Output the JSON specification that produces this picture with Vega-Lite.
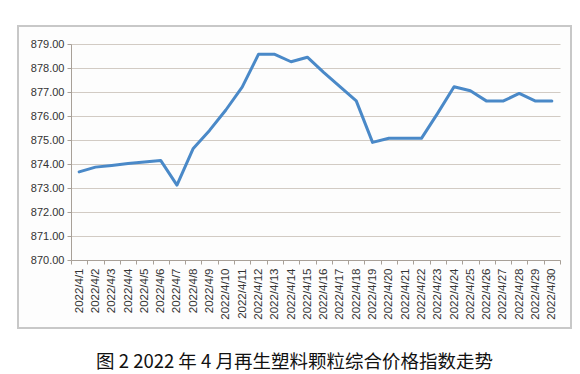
{
  "$schema": "https://vega.github.io/schema/vega-lite/v6.json",
  "autosize": "none",
  "width": 553,
  "height": 302,
  "padding": {"left": 18, "top": 26, "right": 9, "bottom": 46},
  "background": "white",
  "config": {
    "view": {"stroke": "#c8c8c8", "strokeWidth": 2, "fill": "#fdfdfd"},
    "font": "Liberation Sans"
  },
  "title": {
    "text": "图 2  2022 年 4 月再生塑料颗粒综合价格指数走势",
    "orient": "bottom",
    "anchor": "middle",
    "font": "Noto Sans CJK SC",
    "fontSize": 18.5,
    "fontWeight": "normal",
    "color": "#111111",
    "offset": 25
  },
  "data": {
    "values": [
      {"date": "2022/4/1", "value": 873.67},
      {"date": "2022/4/2", "value": 873.87},
      {"date": "2022/4/3", "value": 873.94},
      {"date": "2022/4/4", "value": 874.02},
      {"date": "2022/4/5", "value": 874.08},
      {"date": "2022/4/6", "value": 874.15},
      {"date": "2022/4/7", "value": 873.12},
      {"date": "2022/4/8", "value": 874.65},
      {"date": "2022/4/9", "value": 875.40},
      {"date": "2022/4/10", "value": 876.25},
      {"date": "2022/4/11", "value": 877.20},
      {"date": "2022/4/12", "value": 878.57},
      {"date": "2022/4/13", "value": 878.57},
      {"date": "2022/4/14", "value": 878.26},
      {"date": "2022/4/15", "value": 878.45},
      {"date": "2022/4/16", "value": 877.82},
      {"date": "2022/4/17", "value": 877.22},
      {"date": "2022/4/18", "value": 876.63},
      {"date": "2022/4/19", "value": 874.90},
      {"date": "2022/4/20", "value": 875.07},
      {"date": "2022/4/21", "value": 875.07},
      {"date": "2022/4/22", "value": 875.07},
      {"date": "2022/4/23", "value": 876.12},
      {"date": "2022/4/24", "value": 877.22},
      {"date": "2022/4/25", "value": 877.05},
      {"date": "2022/4/26", "value": 876.62},
      {"date": "2022/4/27", "value": 876.62},
      {"date": "2022/4/28", "value": 876.94},
      {"date": "2022/4/29", "value": 876.62},
      {"date": "2022/4/30", "value": 876.62}
    ]
  },
  "mark": {"type": "line", "color": "#4a89c8", "strokeWidth": 3, "strokeJoin": "round", "strokeCap": "round"},
  "encoding": {
    "x": {
      "field": "date",
      "type": "ordinal",
      "sort": null,
      "bandPosition": 0.5,
      "scale": {"type": "band", "paddingInner": 0, "paddingOuter": 0, "range": [53, 542]},
      "axis": {
        "title": null,
        "offset": -68,
        "tickBand": "extent",
        "labelAngle": -90,
        "labelAlign": "right",
        "labelBaseline": "middle",
        "labelFontSize": 11.5,
        "labelColor": "#333333",
        "labelPadding": 4,
        "tickSize": 4,
        "tickColor": "#a8a098",
        "domainColor": "#a8a098",
        "grid": false
      }
    },
    "y": {
      "field": "value",
      "type": "quantitative",
      "scale": {"domain": [870, 879], "range": [234, 18], "nice": false, "zero": false},
      "axis": {
        "title": null,
        "offset": -53,
        "values": [870, 871, 872, 873, 874, 875, 876, 877, 878, 879],
        "format": ".2f",
        "labelFontSize": 11,
        "labelColor": "#333333",
        "labelPadding": 3,
        "tickSize": 4,
        "tickColor": "#a8a098",
        "domainColor": "#a8a098",
        "grid": true,
        "gridColor": "#d2cbc4",
        "gridWidth": 1.2
      }
    }
  }
}
